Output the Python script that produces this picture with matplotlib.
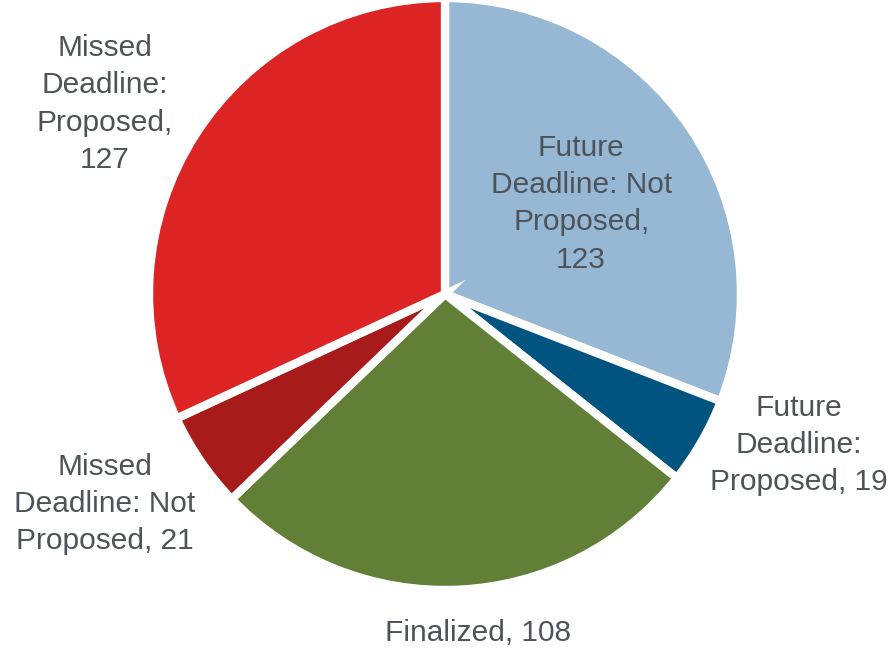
import matplotlib
matplotlib.use("Agg")
import matplotlib.pyplot as plt

# deadline status counts
labels = ["Future\nDeadline: Not\nProposed,\n123",
          "Future\nDeadline:\nProposed, 19",
          "Finalized, 108",
          "Missed\nDeadline: Not\nProposed, 21",
          "Missed\nDeadline:\nProposed,\n127"]
counts = [123, 19, 108, 21, 127]
colors = ["#96b8d4", "#00547f", "#627f37", "#a81b1b", "#dc2424"]

# where each label sits, in axes data units (pie radius = 1)
label_pos = [(0.46, 0.305), (1.195, -0.51), (0.11, -1.145),
             (-1.15, -0.71), (-1.15, 0.642)]

W, H = 895, 649
S = 296.0           # pixels per data unit
CX, CY = 445, 294   # pie centre, pixels from top-left

fig = plt.figure(figsize=(W / 100, H / 100), dpi=100)
ax = fig.add_axes([0, 0, 1, 1])

wedges, texts = ax.pie(counts, colors=colors, startangle=90, counterclock=False,
                       labels=labels, radius=1.0, frame=True,
                       wedgeprops=dict(edgecolor="white", linewidth=6))
ax.axis("off")
ax.set_aspect("auto")
ax.set_xlim(-CX / S, (W - CX) / S)
ax.set_ylim(-(H - CY) / S, CY / S)

for t, (x, y) in zip(texts, label_pos):
    t.set_position((x, y))
    t.set_ha("center")
    t.set_va("center")
    t.set_multialignment("center")
    t.set_fontsize(21.5)
    t.set_family("Liberation Sans")
    t.set_color("#4d5358")
    t.set_linespacing(1.42)

fig.savefig("out.png", dpi=100)
